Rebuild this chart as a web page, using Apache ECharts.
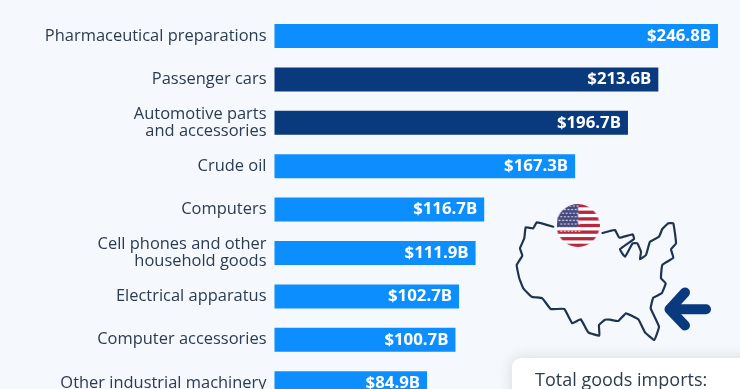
<!DOCTYPE html>
<html>
<head>
<meta charset="utf-8">
<style>
  html, body { margin: 0; padding: 0; background: #f5f8fc; }
  #chart { width: 740px; height: 389px; }
</style>
<script src="https://cdn.jsdelivr.net/npm/echarts@6/dist/echarts.min.js"></script>
</head>
<body>
<div id="chart"></div>
<script>
const categories = [
  'Pharmaceutical preparations',
  'Passenger cars',
  'Automotive parts\nand accessories',
  'Crude oil',
  'Computers',
  'Cell phones and other\nhousehold goods',
  'Electrical apparatus',
  'Computer accessories',
  'Other industrial machinery'
];
const values = [246.8, 213.6, 196.7, 167.3, 116.7, 111.9, 102.7, 100.7, 84.9];
const highlighted = ['Passenger cars', 'Automotive parts\nand accessories'];

const LIGHT = '#0d8eff';
const DARK = '#0a3a7e';
const TEXT = '#2b3b50';
const FONT = '"Open Sans"';

// decorative map outline, page pixels
const usaOutline = [
  [553.3,226.7],[536.7,222.3],[533.3,228.3],[525.7,227.3],[524.3,238.3],[520,248.3],[522.3,255.7],
  [516.7,265],[519.3,278.3],[523.3,288.3],[531.7,296.7],[542.3,298.3],[550.7,309],[564.3,309],
  [572.3,323.3],[580.7,319.3],[588.3,332.3],[599.3,335.7],[599,325],[605,319.7],[610,319.7],
  [618.3,321],[626,313.3],[638.3,319.3],[645,332.3],[654.3,340],[659,326.7],[650.7,308.3],
  [653.3,297.7],[661.7,293.3],[665.7,283.3],[661,278.3],[662.3,265],[673.3,257.7],[671,249.3],
  [676,243.3],[673.3,223.3],[668.3,223.3],[662.3,229],[659,236.7],[650,241.7],[646,255],
  [640,259.3],[641,251.7],[637.3,243.3],[632.7,243.3],[625,256.7],[620,249.3],[634,239],
  [632.7,234.3],[619.3,237.7],[615,230],[610,231],[602.5,233]
];

function flagCanvas(size) {
  const c = document.createElement('canvas');
  c.width = c.height = size;
  const g = c.getContext('2d');
  g.beginPath();
  g.arc(size / 2, size / 2, size / 2, 0, Math.PI * 2);
  g.clip();
  g.fillStyle = '#fff';
  g.fillRect(0, 0, size, size);
  const h = size / 13;
  g.fillStyle = '#b7283e';
  for (let i = 0; i < 13; i += 2) g.fillRect(0, i * h, size, h);
  g.fillStyle = '#46497f';
  g.fillRect(0, 0, size / 2, h * 7);
  g.fillStyle = '#fff';
  for (let r = 0; r < 8; r++) {
    for (let k = 0; k < 6; k++) {
      g.beginPath();
      g.arc(3 + k * 3.6 + (r % 2) * 1.8, 2 + r * 3.6, 0.8, 0, Math.PI * 2);
      g.fill();
    }
  }
  return c;
}

const chart = echarts.init(document.getElementById('chart'));
chart.setOption({
  backgroundColor: '#f5f8fc',
  animation: false,
  grid: { left: 274.5, top: 14.3, width: 449.25, height: 390.6, outerBoundsMode: 'none' },
  xAxis: { type: 'value', min: 0, max: 250, show: false },
  yAxis: {
    type: 'category',
    inverse: true,
    data: categories,
    axisLine: { show: false },
    axisTick: { show: false },
    axisLabel: { color: TEXT, fontFamily: FONT, fontSize: 16.45, lineHeight: 17.5, margin: 8, align: 'right', padding: [4, 0, 0, 0] }
  },
  series: [{
    type: 'bar',
    data: values,
    barWidth: 24,
    itemStyle: {
      color: p => highlighted.includes(categories[p.dataIndex]) ? DARK : LIGHT
    },
    label: {
      show: true,
      position: 'insideRight',
      distance: 7,
      color: '#fff',
      fontFamily: FONT,
      fontWeight: 'bold',
      fontSize: 16.8,
      padding: [2, 0, 0, 0],
      formatter: p => '$' + p.value.toFixed(1) + 'B'
    }
  }],
  graphic: [
    {
      type: 'polyline',
      shape: { points: usaOutline, smooth: 0.1 },
      style: { stroke: '#1e3350', lineWidth: 2.2, fill: null, lineJoin: 'round', lineCap: 'round' }
    },
    { type: 'image', x: 556.5, y: 204, style: { image: flagCanvas(43), x: 0, y: 0, width: 43, height: 43 } },
    {
      type: 'polyline',
      shape: { points: [[685, 292.5], [669.5, 309.3], [685, 325.5]] },
      style: { stroke: DARK, lineWidth: 10, fill: null, lineJoin: 'round', lineCap: 'round' }
    },
    {
      type: 'line',
      shape: { x1: 670, y1: 309.3, x2: 706, y2: 309.3 },
      style: { stroke: DARK, lineWidth: 10, lineCap: 'round' }
    },
    {
      type: 'rect',
      shape: { x: 512, y: 358, width: 260, height: 80, r: 9 },
      style: { fill: '#fff', shadowBlur: 14, shadowColor: 'rgba(40,60,90,0.16)' }
    },
    {
      type: 'text',
      x: 535, y: 381,
      style: { text: 'Total goods imports:', fill: TEXT, font: '18px ' + FONT, textVerticalAlign: 'middle' }
    }
  ]
});
</script>
</body>
</html>
